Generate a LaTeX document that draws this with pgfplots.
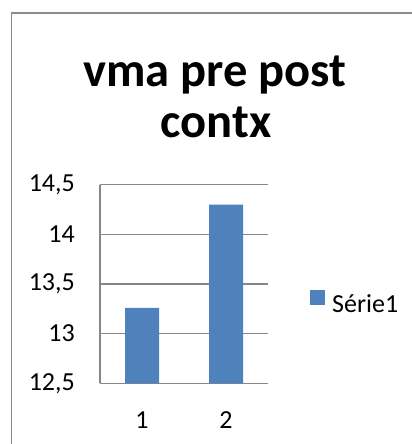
\documentclass[border=0pt]{standalone}
\usepackage{pgfplots}
\pgfplotsset{compat=1.18}
\usepackage{fontspec}
\setmainfont{Carlito}
\definecolor{barblue}{HTML}{4F81BD}
\definecolor{gridgray}{HTML}{868686}
\definecolor{framegray}{HTML}{8C8C8C}
\begin{document}
\begin{tikzpicture}[x=1bp,y=1bp]
\useasboundingbox (0,0) rectangle (411,444);
\draw[framegray, line width=1.5bp] (11.7,-5) -- (11.7,431) -- (420,431);
\node[font=\fontsize{48.5bp}{56bp}\selectfont\bfseries, anchor=base, inner sep=0pt] at (215,357) {vma pre post};
\node[font=\fontsize{48.5bp}{56bp}\selectfont\bfseries, anchor=base, inner sep=0pt] at (216,306) {contx};
\begin{axis}[
  scale only axis,
  width=168bp, height=198.6bp,
  at={(100bp,60.7bp)}, anchor=south west,
  xmin=0.5, xmax=2.5,
  ymin=12.5, ymax=14.5,
  ytick={12.5,13,13.5,14,14.5},
  xtick={1,2},
  axis x line*=bottom,
  axis y line*=left,
  axis line style={gridgray, line width=1.2bp, -},
  ymajorgrids,
  major grid style={gridgray, line width=1.2bp},
  major tick length=0pt,
  tick label style={font=\fontsize{26bp}{31bp}\selectfont, inner sep=0pt},
  /pgf/number format/assume math mode=true,
  /pgf/number format/use comma,
  yticklabel style={/pgf/number format/fixed, xshift=-25bp},
  xticklabel style={yshift=-28bp},
  ybar, bar width=34bp,
  legend style={at={(1,0.408)}, anchor=west, draw=none, fill=none,
    font=\fontsize{26bp}{31bp}\selectfont, xshift=42bp,
    inner sep=0pt, nodes={inner sep=0pt}, /tikz/column sep=7bp},
  legend image code/.code={\fill[barblue] (0bp,-0.5bp) rectangle (15bp,14.5bp);},
]
\addplot[fill=barblue, draw=none] coordinates {(1,13.26) (2,14.30)};
\addlegendentry{Série1}
\end{axis}
\end{tikzpicture}
\end{document}
